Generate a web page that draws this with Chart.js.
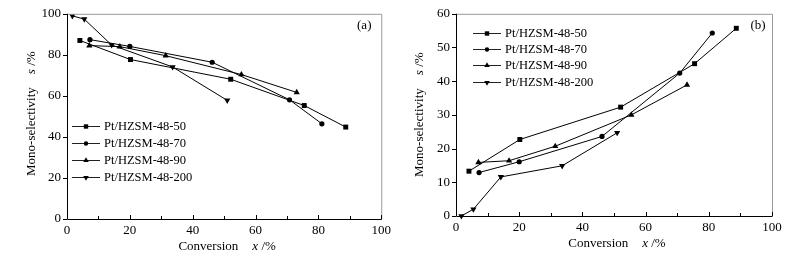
<!DOCTYPE html>
<html>
<head>
<meta charset="utf-8">
<script src="https://cdn.jsdelivr.net/npm/chart.js@4.4.1/dist/chart.umd.min.js"></script>
<style>
    html, body { margin: 0; padding: 0; background: #fff; }
    #wrap { position: relative; width: 789px; height: 260px; background: #fff; }
    canvas { position: absolute; top: 0; }
    #chartA { left: 0; }
    #chartB { left: 395px; }
</style>
</head>
<body>
<div id="wrap">
    <canvas id="chartA" width="395" height="260"></canvas>
    <canvas id="chartB" width="394" height="260"></canvas>
</div>
<script>
// catalysts + conversion x (%) of each run, shared by (a) and (b)
const catalysts = ['Pt/HZSM-48-50', 'Pt/HZSM-48-70', 'Pt/HZSM-48-90', 'Pt/HZSM-48-200'];
const conv50 = [4.1, 20.2, 52.1, 75.5, 88.7];
const conv70 = [7.3, 20.0, 46.2, 70.8, 81.1];
const conv90 = [7.1, 16.8, 31.4, 55.5, 73.1];
const conv200 = [1.7, 5.5, 14.2, 33.6, 51.0];

// (a) mono-selectivity s (%)
const selA50 = [87.0, 77.7, 68.1, 55.3, 44.8];
const selA70 = [87.4, 84.1, 76.4, 58.1, 46.4];
const selA90 = [84.5, 84.0, 79.6, 70.4, 61.7];
const selA200 = [99.0, 97.4, 84.8, 74.1, 57.8];

// (b) mono-selectivity s (%)
const selB50 = [13.3, 22.7, 32.3, 45.2, 55.7];
const selB70 = [12.9, 16.1, 23.6, 42.4, 54.3];
const selB90 = [15.9, 16.4, 20.7, 30.0, 38.9];
const selB200 = [0.0, 2.0, 11.6, 14.9, 24.7];

const xTicksLabelled = [0, 20, 40, 60, 80, 100];
const yTicksA = [0, 20, 40, 60, 80, 100];
const yTicksB = [0, 10, 20, 30, 40, 50, 60];

const FONT = '"Liberation Serif", "Times New Roman", serif';
const markers = [
    { pointStyle: 'rect', rotation: 0, radius: 3.5 },
    { pointStyle: 'circle', rotation: 0, radius: 2.6 },
    { pointStyle: 'triangle', rotation: 0, radius: 3.6 },
    { pointStyle: 'triangle', rotation: 180, radius: 3.6 }
];

function makeDatasets(convs, sels) {
    return catalysts.map((name, i) => ({
        label: name,
        data: convs[i].map((x, k) => ({ x: x, y: sels[i][k] })),
        borderColor: '#000',
        backgroundColor: '#000',
        borderWidth: 1,
        pointStyle: markers[i].pointStyle,
        rotation: markers[i].rotation,
        pointRadius: markers[i].radius,
        pointBorderWidth: 0,
        pointBackgroundColor: '#000',
        tension: 0,
        clip: false
    }));
}

// frame, tick marks, axis titles, panel tag and legend
const decorPlugin = {
    id: 'decor',
    afterDraw(chart, args, opts) {
        const ctx = chart.ctx;
        const { left, right, top, bottom } = chart.chartArea;
        const xs = chart.scales.x, ys = chart.scales.y;
        ctx.save();

        // top / right in grey, left / bottom in black
        ctx.lineWidth = 1;
        ctx.strokeStyle = '#9a9a9a';
        ctx.beginPath();
        ctx.moveTo(left, top + 0.5); ctx.lineTo(right + 0.5, top + 0.5);
        ctx.lineTo(right + 0.5, bottom);
        ctx.stroke();
        ctx.strokeStyle = '#000';
        ctx.beginPath();
        ctx.moveTo(left + 0.5, top); ctx.lineTo(left + 0.5, bottom + 0.5);
        ctx.lineTo(right + 0.5, bottom + 0.5);
        ctx.stroke();

        // x ticks point inwards, minor ones at the odd tens
        ctx.beginPath();
        xs.ticks.forEach(t => {
            const px = Math.round(xs.getPixelForValue(t.value)) + 0.5;
            const len = (t.value % 20 === 0) ? 4 : 3;
            ctx.moveTo(px, bottom); ctx.lineTo(px, bottom - len);
        });
        // y ticks point outwards
        ys.ticks.forEach(t => {
            const py = Math.round(ys.getPixelForValue(t.value)) + 0.5;
            ctx.moveTo(left, py); ctx.lineTo(left - 4, py);
        });
        ctx.stroke();

        // axis titles
        ctx.fillStyle = '#000';
        ctx.textBaseline = 'middle';
        const normal = '13px ' + FONT;
        const italic = 'italic 13px ' + FONT;

        ctx.font = normal;
        const wConv = ctx.measureText('Conversion').width;
        ctx.font = italic;
        const wX = ctx.measureText('x').width;
        ctx.font = normal;
        const wPct = ctx.measureText(' /%').width;
        const gap = 14;
        let tx = (left + right) / 2 + 3 - (wConv + gap + wX + wPct) / 2;
        const ty = bottom + 28;
        ctx.textAlign = 'left';
        ctx.fillText('Conversion', tx, ty);
        ctx.font = italic;
        ctx.fillText('x', tx + wConv + gap, ty);
        ctx.font = normal;
        ctx.fillText(' /%', tx + wConv + gap + wX, ty);

        ctx.save();
        ctx.translate(opts.yTitleX, opts.yTitleBottom);
        ctx.rotate(-Math.PI / 2);
        ctx.font = normal;
        const wMono = ctx.measureText('Mono-selectivity').width;
        ctx.fillText('Mono-selectivity', 0, 0);
        ctx.font = italic;
        const wS = ctx.measureText('s').width;
        ctx.fillText('s', wMono + 13, 0);
        ctx.font = normal;
        ctx.fillText(' /%', wMono + 13 + wS, 0);
        ctx.restore();

        // panel tag
        ctx.font = normal;
        ctx.textAlign = 'center';
        ctx.fillText(opts.tag, right - opts.tagDx, top + 12);

        // legend: line with the marker in its middle
        ctx.font = '12.5px ' + FONT;
        ctx.textAlign = 'left';
        chart.data.datasets.forEach((ds, i) => {
            const y = Math.round(top + opts.legendTop + i * opts.legendStep) + 0.5;
            const x0 = left + opts.legendDx;
            const x1 = x0 + 28;
            ctx.strokeStyle = '#222';
            ctx.beginPath();
            ctx.moveTo(x0, y); ctx.lineTo(x1, y);
            ctx.stroke();
            ctx.fillStyle = '#000';
            Chart.helpers.drawPoint(ctx, {
                pointStyle: ds.pointStyle,
                rotation: ds.rotation,
                radius: ds.pointRadius - 0.4,
                borderWidth: 0
            }, (x0 + x1) / 2, y);
            ctx.fillText(ds.label, x1 + 4, y);
        });
        ctx.restore();
    }
};

function buildChart(canvasId, datasets, yMax, yLabels, area, decor) {
    const ctx = document.getElementById(canvasId);
    const w = ctx.width, h = ctx.height;
    return new Chart(ctx, {
        type: 'line',
        data: { datasets: datasets },
        options: {
            responsive: false,
            devicePixelRatio: 1,
            animation: false,
            events: [],
            layout: { padding: { left: 0, top: area.top, right: w - area.right, bottom: 0 } },
            plugins: {
                legend: { display: false },
                tooltip: { enabled: false },
                decor: decor
            },
            scales: {
                x: {
                    type: 'linear',
                    min: 0, max: 100,
                    grid: { display: false, drawTicks: false },
                    border: { display: false },
                    afterFit: s => { s.height = h - area.bottom; },
                    ticks: {
                        stepSize: 10,
                        autoSkip: false,
                        maxRotation: 0,
                        padding: 4,
                        color: '#000',
                        font: { family: FONT, size: 13 },
                        callback: v => xTicksLabelled.includes(v) ? String(v) : ''
                    }
                },
                y: {
                    type: 'linear',
                    min: 0, max: yMax,
                    grid: { display: false, drawTicks: false },
                    border: { display: false },
                    afterFit: s => { s.width = area.left; },
                    afterBuildTicks: s => { s.ticks = yLabels.map(v => ({ value: v })); },
                    ticks: {
                        autoSkip: false,
                        padding: 6,
                        color: '#000',
                        font: { family: FONT, size: 13 },
                        callback: v => String(v)
                    }
                }
            }
        },
        plugins: [decorPlugin]
    });
}

buildChart('chartA',
    makeDatasets([conv50, conv70, conv90, conv200], [selA50, selA70, selA90, selA200]),
    100, yTicksA,
    { left: 67, right: 382, top: 13, bottom: 219 },
    { tag: '(a)', tagDx: 17, yTitleX: 32, yTitleBottom: 176, legendDx: 5, legendTop: 112, legendStep: 17 });

buildChart('chartB',
    makeDatasets([conv50, conv70, conv90, conv200], [selB50, selB70, selB90, selB200]),
    60, yTicksB,
    { left: 61, right: 377, top: 13, bottom: 216 },
    { tag: '(b)', tagDx: 14, yTitleX: 25, yTitleBottom: 177, legendDx: 17, legendTop: 19, legendStep: 16.3 });
</script>
</body>
</html>
